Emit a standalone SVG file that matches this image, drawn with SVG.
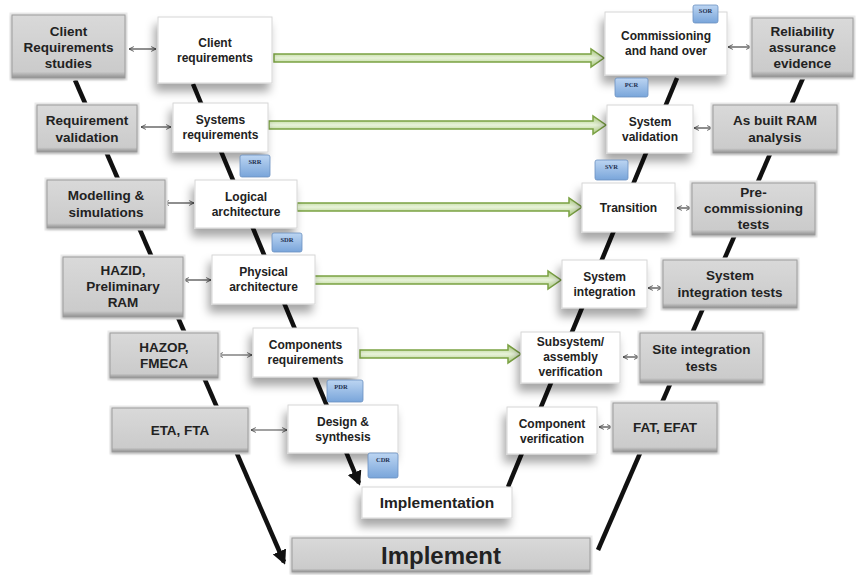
<svg xmlns="http://www.w3.org/2000/svg" width="862" height="575" viewBox="0 0 862 575">
  <defs>
    <style>
      .txt { font-family: "Liberation Sans", Arial, sans-serif; font-weight: bold; fill: #222; text-anchor: middle; }
      .gt { font-size: 13.5px; }
      .wt { font-size: 12px; }
      .bt { font-family: "Liberation Serif", "Times New Roman", serif; font-weight: bold; font-size: 6.5px; fill: #1e3050; text-anchor: middle; }
      .wbox { fill: #ffffff; stroke: #d6d6d6; stroke-width: 1; filter: url(#shadow); }
      .gbox { fill: url(#grayGrad); stroke: #9c9c9c; stroke-width: 1; filter: url(#glow); }
      .ghalo { fill: none; stroke: #ececec; stroke-width: 3; }
      .badge { fill: url(#blueGrad); stroke: #6b90c0; stroke-width: 0.8; }
      .vline { stroke: #111; stroke-width: 4.5; fill: none; }
      .green { fill: url(#greenGrad); stroke: #7ba243; stroke-width: 1.5; }
      .dbl { stroke: #444; stroke-width: 1.2; fill: none; marker-start: url(#chev); marker-end: url(#chev); }
    </style>
    <linearGradient id="grayGrad" x1="0" y1="0" x2="0" y2="1">
      <stop offset="0" stop-color="#d9d9d9"/>
      <stop offset="0.9" stop-color="#cbcbcb"/>
      <stop offset="1" stop-color="#8f8f8f"/>
    </linearGradient>
    <linearGradient id="blueGrad" x1="0" y1="0" x2="0" y2="1">
      <stop offset="0" stop-color="#bcd5f2"/>
      <stop offset="1" stop-color="#79a5da"/>
    </linearGradient>
    <linearGradient id="greenGrad" x1="0" y1="0" x2="0" y2="1">
      <stop offset="0" stop-color="#a8c97a"/>
      <stop offset="0.5" stop-color="#e8f3da"/>
      <stop offset="1" stop-color="#a8c97a"/>
    </linearGradient>
    <filter id="shadow" x="-30%" y="-30%" width="160%" height="190%">
      <feDropShadow dx="-3" dy="8" stdDeviation="5" flood-color="#000" flood-opacity="0.35"/>
    </filter>
    <filter id="glow" x="-10%" y="-10%" width="120%" height="130%">
      <feDropShadow dx="0" dy="1" stdDeviation="1.5" flood-color="#000" flood-opacity="0.25"/>
    </filter>
    <marker id="head" viewBox="0 0 10 10" refX="8" refY="5" markerWidth="3.2" markerHeight="3.2" orient="auto">
      <path d="M0,0 L10,5 L0,10 Z" fill="#111"/>
    </marker>
    <marker id="chev" viewBox="0 0 10 10" refX="9" refY="5" markerWidth="6" markerHeight="6" markerUnits="userSpaceOnUse" orient="auto-start-reverse">
      <path d="M1,1 L9,5 L1,9" fill="none" stroke="#444" stroke-width="1.4"/>
    </marker>
  </defs>

  <rect width="862" height="575" fill="#ffffff"/>

  <!-- connectors -->
  <g id="connectors">
    <!-- V-shaped spines -->
    <line class="vline" x1="75" y1="80" x2="284" y2="562" marker-end="url(#head)"/>
    <line class="vline" x1="193" y1="84" x2="359" y2="483" marker-end="url(#head)"/>
    <line class="vline" x1="803" y1="78" x2="598" y2="550"/>
    <line class="vline" x1="677" y1="78" x2="508" y2="487"/>

    <!-- green cross-links between the two legs -->
    <path class="green" d="M274,54 H591 V49 L604,58 L591,67 V62 H274 Z"/>
    <path class="green" d="M269,121 H593 V116 L606,125 L593,134 V129 H269 Z"/>
    <path class="green" d="M297,203 H569 V198 L582,207 L569,216 V211 H297 Z"/>
    <path class="green" d="M314,276 H548 V271 L561,280 L548,289 V284 H314 Z"/>
    <path class="green" d="M360,350 H508 V345 L521,354 L508,363 V358 H360 Z"/>

    <!-- two-way links, left side -->
    <line class="dbl" x1="129" y1="49" x2="156" y2="49"/>
    <line class="dbl" x1="141" y1="127" x2="171" y2="127"/>
    <line class="dbl" x1="164" y1="203" x2="194" y2="203"/>
    <line class="dbl" x1="184" y1="280" x2="211" y2="280"/>
    <line class="dbl" x1="218" y1="355" x2="252" y2="355"/>
    <line class="dbl" x1="251" y1="430" x2="287" y2="430"/>

    <!-- two-way links, right side -->
    <line class="dbl" x1="728" y1="47" x2="751" y2="47"/>
    <line class="dbl" x1="694" y1="128" x2="712" y2="128"/>
    <line class="dbl" x1="677" y1="208" x2="691" y2="208"/>
    <line class="dbl" x1="648" y1="288" x2="662" y2="288"/>
    <line class="dbl" x1="623" y1="357" x2="639" y2="357"/>
    <line class="dbl" x1="599" y1="427" x2="612" y2="427"/>
  </g>

  <!-- left column: analysis activities -->
  <g id="client-requirements-studies">
    <rect class="ghalo" x="11" y="14" width="115" height="65"/>
    <rect class="gbox" x="12" y="15" width="113" height="63"/>
    <text class="txt gt" x="68.5" y="35.5">Client</text>
    <text class="txt gt" x="68.5" y="51.5">Requirements</text>
    <text class="txt gt" x="68.5" y="67.5">studies</text>
  </g>
  <g id="requirement-validation">
    <rect class="ghalo" x="36" y="104" width="102" height="49"/>
    <rect class="gbox" x="37" y="105" width="100" height="47"/>
    <text class="txt gt" x="87" y="125">Requirement</text>
    <text class="txt gt" x="87" y="141.5">validation</text>
  </g>
  <g id="modelling-simulations">
    <rect class="ghalo" x="46" y="179" width="120" height="50"/>
    <rect class="gbox" x="47" y="180" width="118" height="48"/>
    <text class="txt gt" x="106" y="200">Modelling &amp;</text>
    <text class="txt gt" x="106" y="216.5">simulations</text>
  </g>
  <g id="hazid">
    <rect class="ghalo" x="62" y="256" width="122" height="62"/>
    <rect class="gbox" x="63" y="257" width="120" height="60"/>
    <text class="txt gt" x="123" y="275">HAZID,</text>
    <text class="txt gt" x="123" y="291">Preliminary</text>
    <text class="txt gt" x="123" y="307">RAM</text>
  </g>
  <g id="hazop">
    <rect class="ghalo" x="109" y="332" width="110" height="47"/>
    <rect class="gbox" x="110" y="333" width="108" height="45"/>
    <text class="txt gt" x="164" y="352">HAZOP,</text>
    <text class="txt gt" x="164" y="368">FMECA</text>
  </g>
  <g id="eta-fta">
    <rect class="ghalo" x="111" y="407" width="138" height="46"/>
    <rect class="gbox" x="112" y="408" width="136" height="44"/>
    <text class="txt gt" x="180" y="435">ETA, FTA</text>
  </g>

  <!-- left leg: definition -->
  <g id="client-requirements">
    <rect class="wbox" x="158" y="17" width="114" height="66"/>
    <text class="txt wt" x="215" y="47">Client</text>
    <text class="txt wt" x="215" y="62">requirements</text>
  </g>
  <g id="systems-requirements">
    <rect class="wbox" x="173" y="103" width="95" height="49"/>
    <text class="txt wt" x="220.5" y="124">Systems</text>
    <text class="txt wt" x="220.5" y="139">requirements</text>
  </g>
  <g id="logical-architecture">
    <rect class="wbox" x="195" y="180" width="102" height="48"/>
    <text class="txt wt" x="246" y="201">Logical</text>
    <text class="txt wt" x="246" y="216">architecture</text>
  </g>
  <g id="physical-architecture">
    <rect class="wbox" x="212" y="255" width="103" height="49"/>
    <text class="txt wt" x="263.5" y="276">Physical</text>
    <text class="txt wt" x="263.5" y="291">architecture</text>
  </g>
  <g id="components-requirements">
    <rect class="wbox" x="253" y="328" width="105" height="49"/>
    <text class="txt wt" x="305.5" y="349">Components</text>
    <text class="txt wt" x="305.5" y="364">requirements</text>
  </g>
  <g id="design-synthesis">
    <rect class="wbox" x="288" y="405" width="110" height="48"/>
    <text class="txt wt" x="343" y="426">Design &amp;</text>
    <text class="txt wt" x="343" y="441">synthesis</text>
  </g>

  <!-- bottom -->
  <g id="implementation">
    <rect class="wbox" x="362" y="487" width="150" height="31"/>
    <text class="txt" x="437" y="508" font-size="15.5">Implementation</text>
  </g>
  <g id="implement">
    <rect class="ghalo" x="291" y="537" width="300" height="36"/>
    <rect class="gbox" x="292" y="538" width="298" height="34"/>
    <text class="txt" x="441" y="564" font-size="24">Implement</text>
  </g>

  <!-- right leg: verification -->
  <g id="commissioning">
    <rect class="wbox" x="605" y="12" width="122" height="63"/>
    <text class="txt wt" x="666" y="40">Commissioning</text>
    <text class="txt wt" x="666" y="55">and hand over</text>
  </g>
  <g id="system-validation">
    <rect class="wbox" x="607" y="105" width="86" height="48"/>
    <text class="txt wt" x="650" y="126">System</text>
    <text class="txt wt" x="650" y="141">validation</text>
  </g>
  <g id="transition">
    <rect class="wbox" x="582" y="183" width="93" height="49"/>
    <text class="txt wt" x="628.5" y="212">Transition</text>
  </g>
  <g id="system-integration">
    <rect class="wbox" x="562" y="260" width="85" height="48"/>
    <text class="txt wt" x="604.5" y="281">System</text>
    <text class="txt wt" x="604.5" y="296">integration</text>
  </g>
  <g id="subsystem-verification">
    <rect class="wbox" x="521" y="332" width="99" height="51"/>
    <text class="txt wt" x="570.5" y="346">Subsystem/</text>
    <text class="txt wt" x="570.5" y="361">assembly</text>
    <text class="txt wt" x="570.5" y="376">verification</text>
  </g>
  <g id="component-verification">
    <rect class="wbox" x="507" y="407" width="90" height="47"/>
    <text class="txt wt" x="552" y="428">Component</text>
    <text class="txt wt" x="552" y="443">verification</text>
  </g>

  <!-- right column: assurance activities -->
  <g id="reliability-assurance">
    <rect class="ghalo" x="751" y="17" width="103" height="61"/>
    <rect class="gbox" x="752" y="18" width="101" height="59"/>
    <text class="txt gt" x="802.5" y="36">Reliability</text>
    <text class="txt gt" x="802.5" y="52">assurance</text>
    <text class="txt gt" x="802.5" y="68">evidence</text>
  </g>
  <g id="as-built-ram">
    <rect class="ghalo" x="712" y="104" width="126" height="50"/>
    <rect class="gbox" x="713" y="105" width="124" height="48"/>
    <text class="txt gt" x="775" y="125">As built RAM</text>
    <text class="txt gt" x="775" y="141.5">analysis</text>
  </g>
  <g id="pre-commissioning">
    <rect class="ghalo" x="691" y="182" width="125" height="54"/>
    <rect class="gbox" x="692" y="183" width="123" height="52"/>
    <text class="txt gt" x="753.5" y="197">Pre-</text>
    <text class="txt gt" x="753.5" y="213">commissioning</text>
    <text class="txt gt" x="753.5" y="229">tests</text>
  </g>
  <g id="system-integration-tests">
    <rect class="ghalo" x="662" y="259" width="136" height="50"/>
    <rect class="gbox" x="663" y="260" width="134" height="48"/>
    <text class="txt gt" x="730" y="280">System</text>
    <text class="txt gt" x="730" y="296.5">integration tests</text>
  </g>
  <g id="site-integration-tests">
    <rect class="ghalo" x="639" y="332" width="125" height="52"/>
    <rect class="gbox" x="640" y="333" width="123" height="50"/>
    <text class="txt gt" x="701.5" y="354">Site integration</text>
    <text class="txt gt" x="701.5" y="370.5">tests</text>
  </g>
  <g id="fat-efat">
    <rect class="ghalo" x="612" y="402" width="106" height="51"/>
    <rect class="gbox" x="613" y="403" width="104" height="49"/>
    <text class="txt gt" x="665" y="432">FAT, EFAT</text>
  </g>

  <!-- review gates -->
  <g id="sor">
    <rect class="badge" x="693" y="5" width="25" height="18" rx="2"/>
    <text class="bt" x="705.5" y="13">SOR</text>
  </g>
  <g id="pcr">
    <rect class="badge" x="615" y="78" width="33" height="19" rx="2"/>
    <text class="bt" x="631.5" y="87">PCR</text>
  </g>
  <g id="srr">
    <rect class="badge" x="240" y="155" width="30" height="22" rx="2"/>
    <text class="bt" x="255" y="164">SRR</text>
  </g>
  <g id="svr">
    <rect class="badge" x="595" y="160" width="33" height="20" rx="2"/>
    <text class="bt" x="611.5" y="169">SVR</text>
  </g>
  <g id="sdr">
    <rect class="badge" x="272" y="233" width="30" height="19" rx="2"/>
    <text class="bt" x="287" y="242">SDR</text>
  </g>
  <g id="pdr">
    <rect class="badge" x="327" y="380" width="36" height="22" rx="2"/>
    <text class="bt" x="341" y="389">PDR</text>
  </g>
  <g id="cdr">
    <rect class="badge" x="368" y="453" width="30" height="25" rx="2"/>
    <text class="bt" x="383" y="462">CDR</text>
  </g>
</svg>
